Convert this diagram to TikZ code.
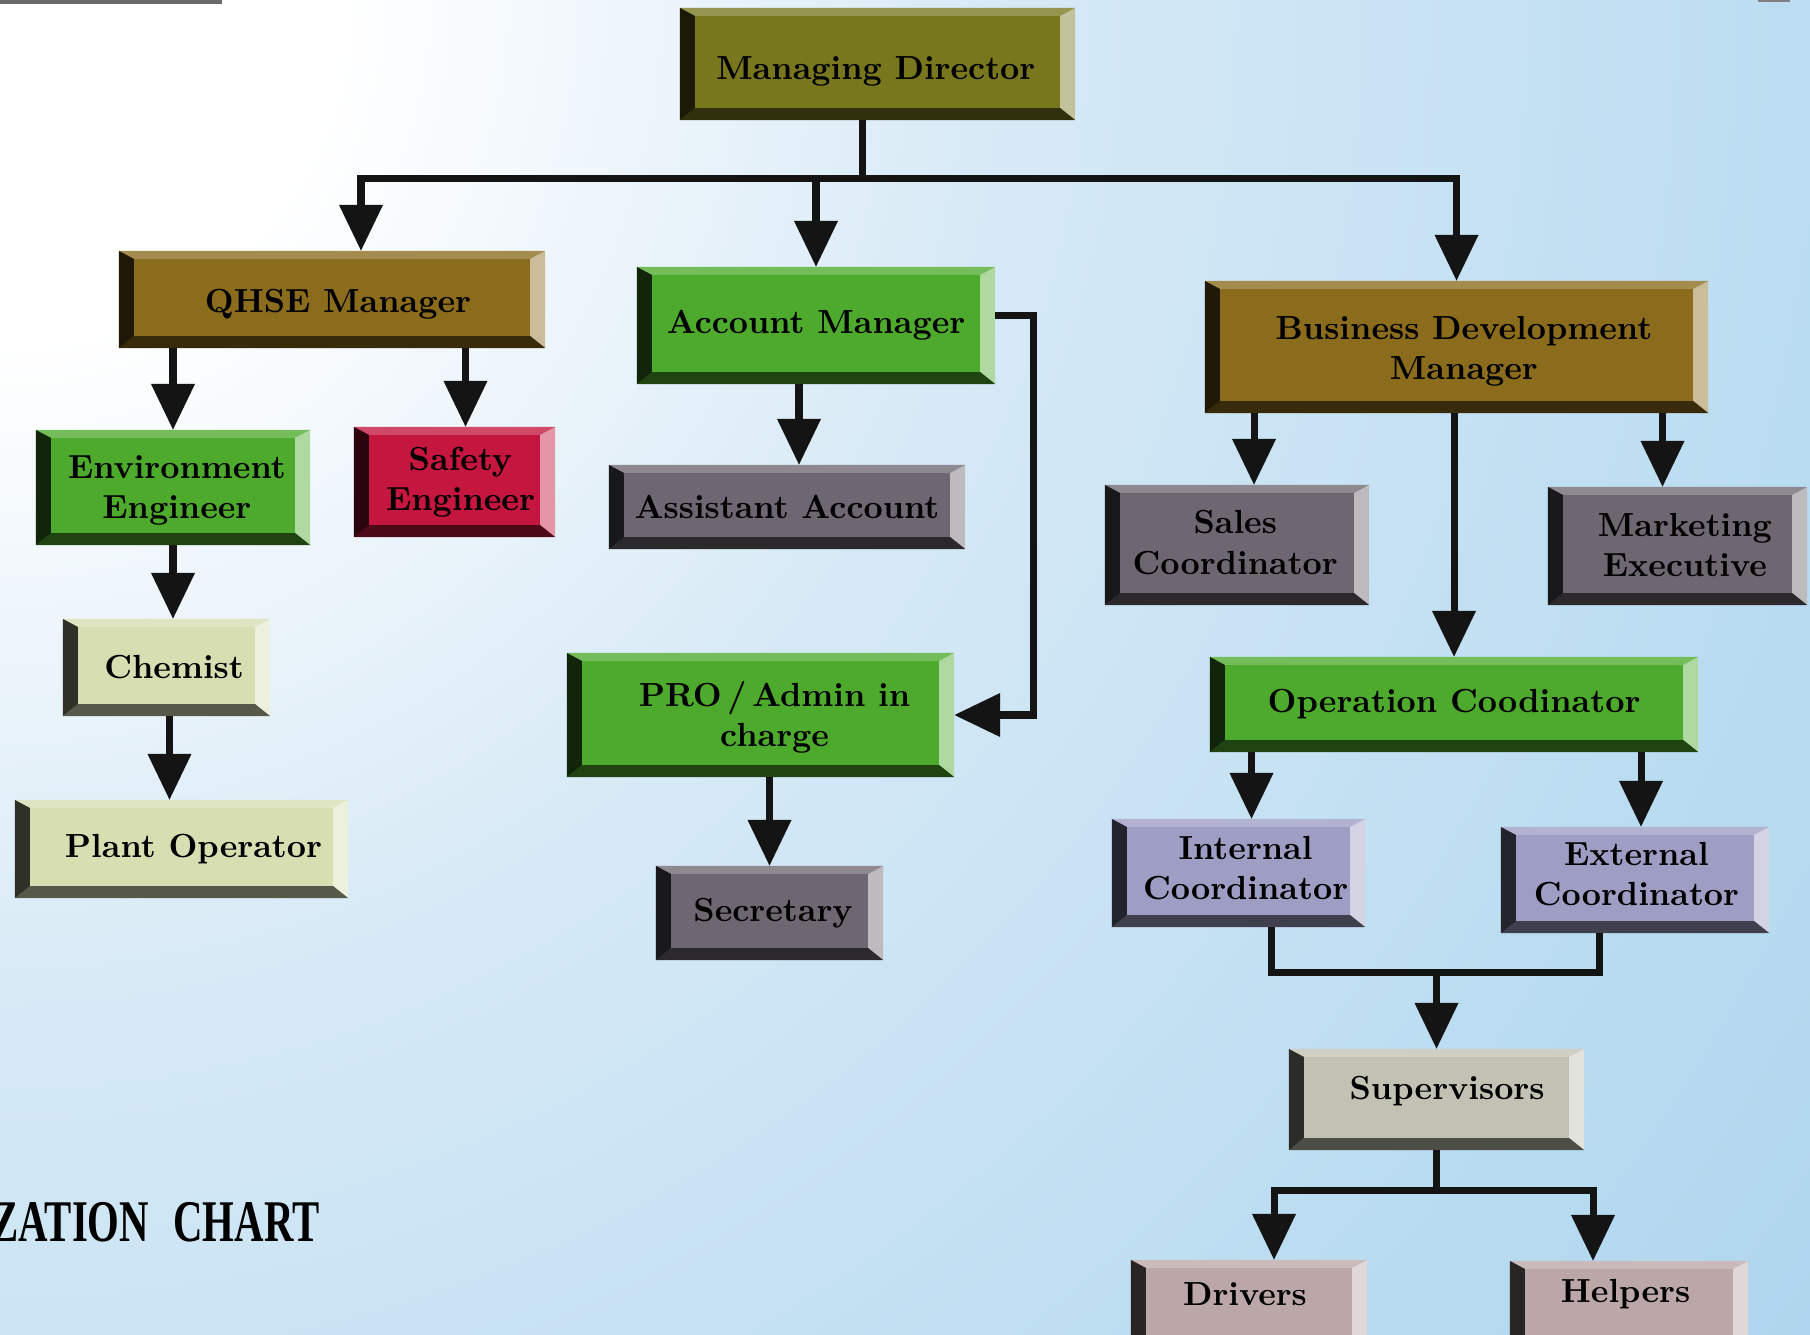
\documentclass[tikz,border=0pt]{standalone}
\usepackage{fontspec}
\usepackage{graphicx}
\newfontfamily\chartfont{Liberation Serif}
\usetikzlibrary{arrows.meta,calc}
\definecolor{bgA}{RGB}{214,233,246}
\definecolor{bgB}{RGB}{186,220,241}
\definecolor{bgC}{RGB}{166,209,236}
\definecolor{bgD}{RGB}{152,201,233}
\definecolor{cMD}{RGB}{120,119,30}
\definecolor{cGold}{RGB}{139,108,28}
\definecolor{cGreen}{RGB}{78,170,44}
\definecolor{cRed}{RGB}{196,22,62}
\definecolor{cGray}{RGB}{110,103,113}
\definecolor{cPale}{RGB}{214,222,178}
\definecolor{cLav}{RGB}{158,158,196}
\definecolor{cSup}{RGB}{194,194,180}
\definecolor{cPink}{RGB}{187,167,167}
\definecolor{lineblack}{RGB}{20,20,20}
\pgfdeclareradialshading{bgshade}{\pgfpointorigin}{color(0bp)=(white); color(3.8bp)=(white); color(11.3bp)=(bgA); color(20.4bp)=(bgB); color(28.7bp)=(bgC); color(37.8bp)=(bgD); color(50bp)=(bgD)}
\newcommand\obfont{\fontsize{9.5}{11.4}\selectfont\bfseries}
% one line of box text, moved right by half of #1 and up by #2
\newcommand\tl[3]{\raisebox{#2}[\height][\depth]{\hspace*{#1}#3}}
\begin{document}
\begin{tikzpicture}[x=0.01cm,y=-0.01cm,
  line/.style={draw=lineblack, line width=2pt, line join=miter},
  arr/.style={line, -{Triangle[width=0.42cm,length=0.46cm]}},
  obox/.style={fill=#1, text=black, inner sep=2pt, outer sep=0pt, align=center, font=\obfont,
    path picture={
      \coordinate (pNW) at (path picture bounding box.north west);
      \coordinate (pNE) at (path picture bounding box.north east);
      \coordinate (pSE) at (path picture bounding box.south east);
      \coordinate (pSW) at (path picture bounding box.south west);
      \fill[#1!78!white] (pNW) -- (pNE) -- ($(pNE)+(-15,8)$) -- ($(pNW)+(15,8)$) -- cycle;
      \fill[#1!45!white] (pNE) -- (pSE) -- ($(pSE)+(-15,-12)$) -- ($(pNE)+(-15,8)$) -- cycle;
      \fill[#1!40!black] (pSW) -- (pSE) -- ($(pSE)+(-15,-12)$) -- ($(pSW)+(15,-12)$) -- cycle;
      \fill[#1!22!black] (pNW) -- (pSW) -- ($(pSW)+(15,-12)$) -- ($(pNW)+(15,8)$) -- cycle;
    }}
]
\useasboundingbox (0,0) rectangle (1810,1334);
\clip (0,0) rectangle (1810,1334);
\fill[bgD] (0,0) rectangle (1810,1334);
\shade[shading=bgshade] (0,0) circle (22.5cm);
\fill[black!58] (0,0) rectangle (222,4);
\fill[black!50] (1758,0) rectangle (1790,2);

% boxes
\node[obox=cMD, minimum width=3.95cm, minimum height=1.12cm] (md) at (877.5,64) {\tl{-1pt}{-2pt}{Managing Director}};
\node[obox=cGold, minimum width=4.26cm, minimum height=0.97cm] (qhse) at (332,299.5) {\tl{3.4pt}{-1.2pt}{QHSE Manager}};
\node[obox=cGreen, minimum width=3.58cm, minimum height=1.17cm] (am) at (816,325.5) {Account Manager};
\node[obox=cGold, minimum width=5.03cm, minimum height=1.32cm] (bdm) at (1456.5,347) {\tl{4.2pt}{-1.2pt}{Business Development}\\\tl{4.2pt}{-1.2pt}{Manager}};
\node[obox=cGreen, minimum width=2.74cm, minimum height=1.15cm] (env) at (173,487.5) {\tl{2.2pt}{-0.9pt}{Environment}\\\tl{2.2pt}{-0.9pt}{Engineer}};
\node[obox=cRed, minimum width=2.01cm, minimum height=1.10cm] (safety) at (454.5,482) {\tl{3.4pt}{0pt}{Safety}\\\tl{3.4pt}{0pt}{Engineer}};
\node[obox=cGray, minimum width=3.56cm, minimum height=0.84cm] (asst) at (787,507) {Assistant Account};
\node[obox=cGray, minimum width=2.64cm, minimum height=1.20cm] (sales) at (1237,545) {\tl{-1pt}{0.7pt}{Sales}\\\tl{-1pt}{0.7pt}{Coordinator}};
\node[obox=cGray, minimum width=2.59cm, minimum height=1.18cm] (mkt) at (1677.5,546) {\tl{4.2pt}{0.3pt}{Marketing}\\\tl{4.2pt}{0.3pt}{Executive}};
\node[obox=cPale, minimum width=2.07cm, minimum height=0.97cm] (chem) at (166.5,667.5) {\tl{4.3pt}{0pt}{Chemist}};
\node[obox=cGreen, minimum width=3.87cm, minimum height=1.24cm] (pro) at (760.5,715) {\tl{8pt}{-0.6pt}{PRO\,/\,Admin in}\\\tl{8pt}{-0.6pt}{charge}};
\node[obox=cGreen, minimum width=4.88cm, minimum height=0.95cm] (opco) at (1454,704.5) {Operation Coodinator};
\node[obox=cPale, minimum width=3.33cm, minimum height=0.98cm] (plant) at (181.5,849) {\tl{6.8pt}{0pt}{Plant Operator}};
\node[obox=cGray, minimum width=2.27cm, minimum height=0.94cm] (sec) at (769.5,913) {\tl{2pt}{0pt}{Secretary}};
\node[obox=cLav, minimum width=2.53cm, minimum height=1.08cm] (int) at (1238.5,873) {\tl{4pt}{1.4pt}{Internal}\\\tl{4pt}{1.4pt}{Coordinator}};
\node[obox=cLav, minimum width=2.68cm, minimum height=1.06cm] (ext) at (1635,880) {\tl{0.8pt}{1.7pt}{External}\\\tl{0.8pt}{1.7pt}{Coordinator}};
\node[obox=cSup, minimum width=2.95cm, minimum height=1.01cm] (sup) at (1436.5,1099.5) {\tl{6pt}{2.3pt}{Supervisors}};
\node[obox=cPink, minimum width=2.36cm, minimum height=0.90cm] (drv) at (1249,1305) {\tl{-2.3pt}{3.1pt}{Drivers}};
\node[obox=cPink, minimum width=2.38cm, minimum height=0.90cm] (hlp) at (1629,1306) {\tl{-2pt}{3.3pt}{Helpers}};

\node[anchor=base east, inner sep=0pt] (title) at (320,1241)
  {\chartfont\bfseries\fontsize{16.8}{18}\selectfont\scalebox{0.69}[1]{ZATION\hspace{0.6em}CHART}};

% connectors
\coordinate (mdj) at ($(md.south)+(-15,58)$);
\draw[line] (md.south -| mdj) -- (mdj);
\coordinate (qin) at ($(qhse.north)+(29,0)$);
\draw[arr] (mdj) -| (qin);
\draw[arr] (mdj) -| (bdm.north);
\draw[arr] (mdj -| am.north) -- (am.north);

\draw[arr] (qhse.south -| env.north) -- (env.north);
\coordinate (sin) at ($(safety.north)+(11,0)$);
\draw[arr] (qhse.south -| sin) -- (sin);
\draw[arr] (env.south) -- (env.south |- chem.north);
\coordinate (pin) at ($(chem.south)+(3,0)$);
\draw[arr] (pin) -- (pin |- plant.north);

\coordinate (aout) at ($(am.south)+(-17,0)$);
\draw[arr] (aout) -- (aout |- asst.north);
\coordinate (aright) at ($(am.east)+(0,-10)$);
\draw[arr] (aright) -- ++(38,0) |- (pro.east);
\draw[arr] (pro.south -| sec.north) -- (sec.north);

\coordinate (slin) at ($(sales.north)+(17,0)$);
\draw[arr] (bdm.south -| slin) -- (slin);
\coordinate (mkin) at ($(mkt.north)+(-15,0)$);
\draw[arr] (bdm.south -| mkin) -- (mkin);
\draw[arr] (bdm.south -| opco.north) -- (opco.north);

\coordinate (iin) at ($(int.north)+(13,0)$);
\draw[arr] (opco.south -| iin) -- (iin);
\coordinate (ein) at ($(ext.north)+(6,0)$);
\draw[arr] (opco.south -| ein) -- (ein);

\coordinate (iout) at ($(int.south)+(33,0)$);
\coordinate (eout) at ($(ext.south)+(-36,0)$);
\coordinate (mj) at ($(sup.north)+(0,-76)$);
\draw[line] (iout) |- (mj) -| (eout);
\draw[arr] (mj) -- (sup.north);

\coordinate (sj) at ($(sup.south)+(0,40)$);
\draw[line] (sup.south) -- (sj);
\coordinate (din) at ($(drv.north)+(25,0)$);
\coordinate (hin) at ($(hlp.north)+(-36,0)$);
\draw[arr] (sj) -| (din);
\draw[arr] (sj) -| (hin);
\end{tikzpicture}
\end{document}
